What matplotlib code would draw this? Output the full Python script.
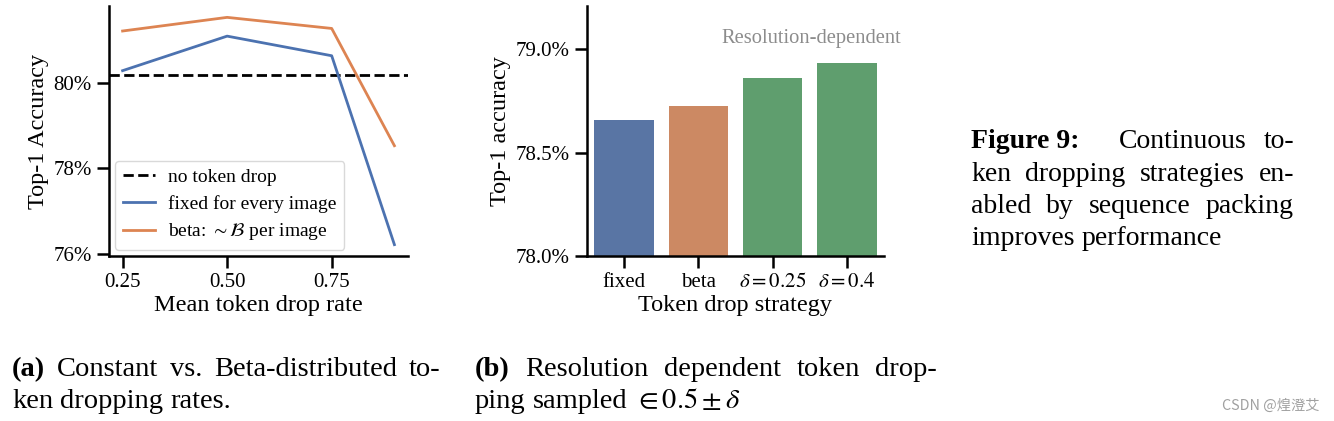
import numpy as np
import matplotlib
matplotlib.use("Agg")
import matplotlib.pyplot as plt

plt.rcParams['font.family'] = 'serif'
plt.rcParams['font.serif'] = ['Liberation Serif', 'DejaVu Serif']
plt.rcParams['mathtext.fontset'] = 'stix'

# datos del panel (a)
tasas = [0.25, 0.50, 0.75, 0.90]
acc_fijo = [80.29, 81.10, 80.64, 76.21]
acc_beta = [81.22, 81.54, 81.28, 78.53]
acc_sin_drop = 80.18
yticks_a = [76, 78, 80]
yticklabels_a = ['76%', '78%', '80%']
xticks_a = [0.25, 0.50, 0.75]

# datos del panel (b)
estrategias = ['fixed', 'beta', r'$\delta=0.25$', r'$\delta=0.4$']
acc_estrategia = [78.66, 78.724, 78.86, 78.934]
yticks_b = [78.0, 78.5, 79.0]
yticklabels_b = ['78.0%', '78.5%', '79.0%']

azul = '#4C72B0'
naranja = '#DD8452'
colores_barras = ['#5975A4', '#CC8963', '#5F9E6E', '#5F9E6E']

W, H = 1334, 421
fig = plt.figure(figsize=(W / 100, H / 100), dpi=100)


def px_ax(x0, y0, x1, y1):
    return fig.add_axes([x0 / W, 1 - y1 / H, (x1 - x0) / W, (y1 - y0) / H])


def estilo(ax):
    for s in ['top', 'right']:
        ax.spines[s].set_visible(False)
    for s in ['left', 'bottom']:
        ax.spines[s].set_linewidth(1.8)
    ax.tick_params(width=1.8, length=8.5, labelsize=15, pad=4)


# panel (a)
ax1 = px_ax(109, 6, 408, 256)
ax1.axhline(acc_sin_drop, color='black', ls='--', lw=2, label='no token drop')
ax1.plot(tasas, acc_fijo, color=azul, lw=2, label='fixed for every image')
ax1.plot(tasas, acc_beta, color=naranja, lw=2, label=r'beta: $\sim\mathcal{B}$ per image')
ax1.set_xticks(xticks_a)
ax1.set_xticklabels(['%.2f' % t for t in xticks_a])
ax1.set_yticks(yticks_a)
ax1.set_yticklabels(yticklabels_a)
ax1.margins(x=0.05, y=0.05)
ax1.set_xlabel('Mean token drop rate', fontsize=17.5, labelpad=2)
ax1.set_ylabel('Top-1 Accuracy', fontsize=17.5, labelpad=3)
estilo(ax1)
ax1.legend(loc='lower left', fontsize=14, frameon=True, fancybox=True,
           edgecolor='#d0d0d0', framealpha=0.8, borderaxespad=0.3,
           handlelength=1.65, handletextpad=0.7, labelspacing=0.45)

# panel (b)
ax2 = px_ax(586.7, 6, 884.3, 255.7)
x = np.arange(len(estrategias))
ax2.bar(x, acc_estrategia, width=0.8, color=colores_barras, bottom=0)
ax2.set_xlim(-0.5, 3.5)
ax2.set_ylim(78.0, 79.21)
ax2.set_xticks(x)
ax2.set_xticklabels(estrategias)
ax2.set_yticks(yticks_b)
ax2.set_yticklabels(yticklabels_b)
ax2.set_xlabel('Token drop strategy', fontsize=17.5, labelpad=2)
ax2.set_ylabel('Top-1 accuracy', fontsize=17.5, labelpad=3)
estilo(ax2)
ax2.text(2.52, 79.03, 'Resolution-dependent', color='#8c8c8c', fontsize=14.8,
         ha='center', va='baseline')

# textos justificados
renderer = fig.canvas.get_renderer()


def linea(palabras, x0, y, size, x1=None, pesos=None):
    # palabras: lista de (texto, negrita); pesos: reparto del hueco entre palabras
    textos = []
    for p, negrita in palabras:
        t = fig.text(x0 / W, 1 - y / H, p, fontsize=size, va='baseline',
                     fontweight='bold' if negrita else 'normal')
        textos.append(t)
    anchos = [t.get_window_extent(renderer).width for t in textos]
    n = len(textos) - 1
    if pesos is None:
        pesos = [1.0] * n
    espacios = [size * 100 / 72 * 0.25] * n
    if x1 is not None and n > 0:
        libre = x1 - x0 - sum(anchos)
        espacios = [libre * w / sum(pesos) for w in pesos]
    pos = x0
    for i, (t, a) in enumerate(zip(textos, anchos)):
        t.set_x(pos / W)
        if i < n:
            pos += a + espacios[i]


fs_sub = 20.5
linea([('(a)', True), ('Constant', False), ('vs.', False), ('Beta-distributed', False),
       ('to-', False)], 12, 376, fs_sub, 440)
linea([('ken', False), ('dropping', False), ('rates.', False)], 12, 408, fs_sub)
linea([('(b)', True), ('Resolution', False), ('dependent', False), ('token', False),
       ('drop-', False)], 475, 376, fs_sub, 937)
linea([('ping', False), ('sampled', False), (r'$\in 0.5 \pm \delta$', False)], 475, 408, fs_sub)

fs_cap = 20
linea([('Figure 9:', True), ('Continuous', False), ('to-', False)], 971, 148, fs_cap, 1294,
      pesos=[2.4, 1.0])
linea([('ken', False), ('dropping', False), ('strategies', False), ('en-', False)],
      971, 181, fs_cap, 1294)
linea([('abled', False), ('by', False), ('sequence', False), ('packing', False)],
      971, 213, fs_cap, 1294)
linea([('improves', False), ('performance', False)], 971, 245, fs_cap)

fig.text(1222 / W, 1 - 410 / H, 'CSDN @煌澄艾', fontsize=10.3, color='#a0a0a0',
         family=['Noto Sans CJK SC', 'DejaVu Sans'], va='baseline')

fig.savefig('out.png', dpi=100)
